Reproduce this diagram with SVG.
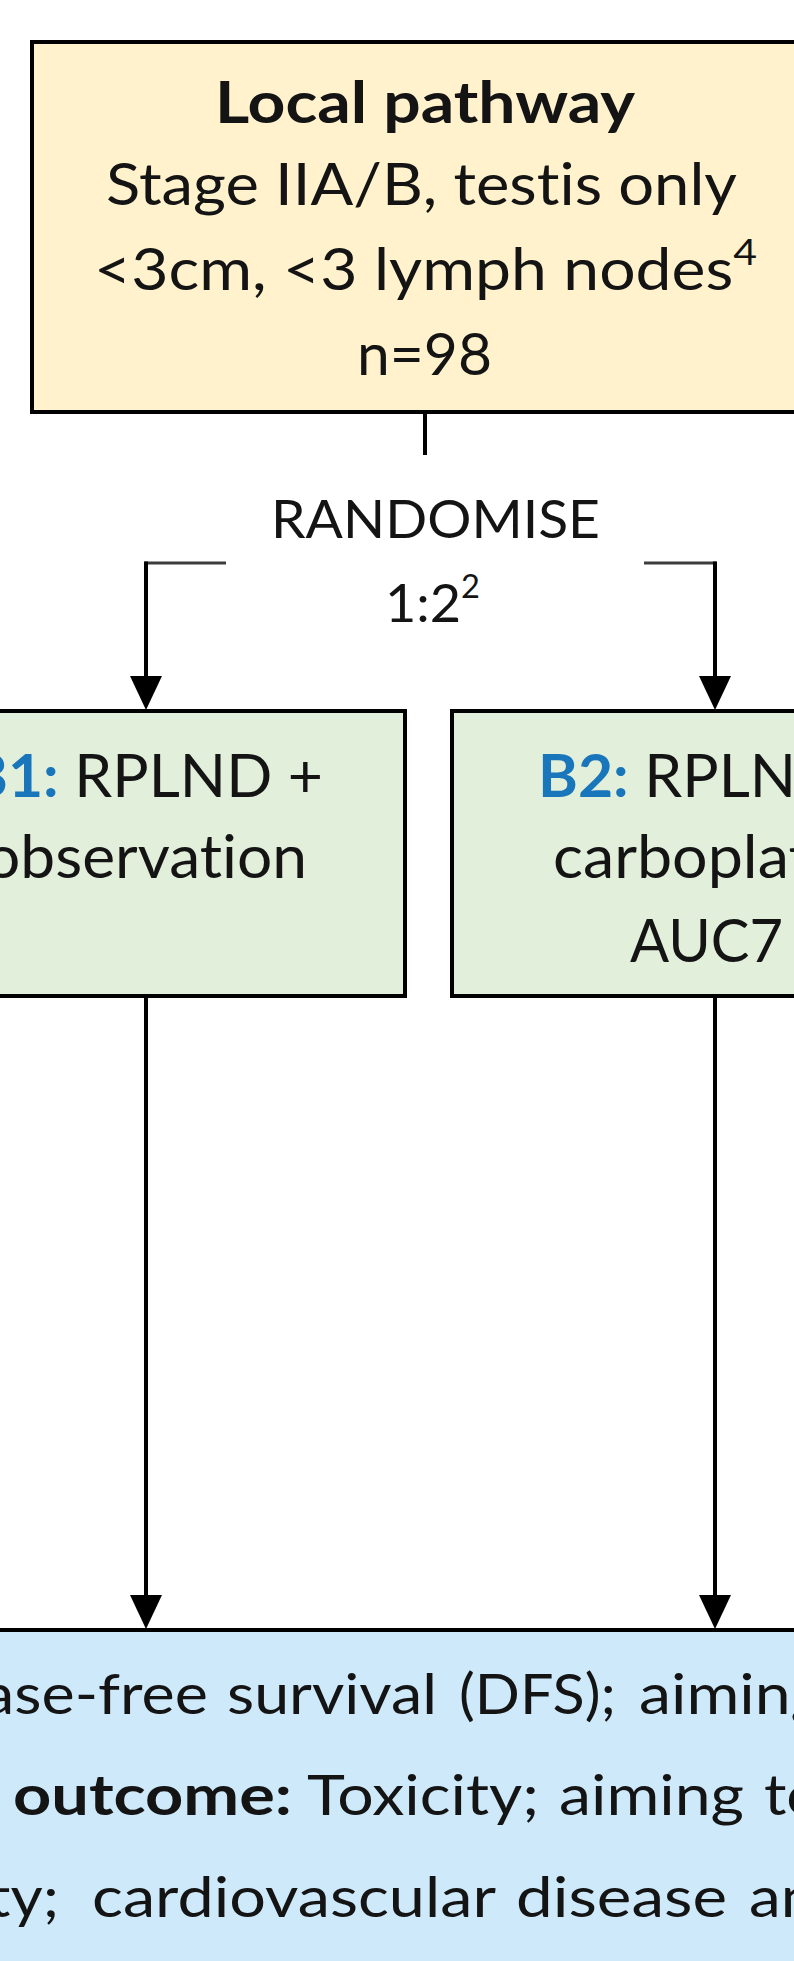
<svg xmlns="http://www.w3.org/2000/svg" width="794" height="1961" viewBox="0 0 794 1961">
  <style>
    .box { stroke: #000; stroke-width: 4; }
    .local { fill: #FFF2CC; }
    .arm { fill: #E2EFDA; }
    .outcome { fill: #CDE9FA; }
    .t { font-family: Lato, "Open Sans", "Liberation Sans", sans-serif; fill: #141414; font-variant-ligatures: none; font-feature-settings: "liga" 0, "clig" 0; }
    .b { font-weight: 700; }
    .arm-id { fill: #1A76BB; font-weight: 700; }
    .wire { fill: none; stroke: #000; stroke-width: 4; }
    .stub { fill: none; stroke: #3c3c3c; stroke-width: 3; }
  </style>
  <defs>
    <marker id="ah" viewBox="0 0 34 32" refX="24" refY="16" markerWidth="34" markerHeight="32" markerUnits="userSpaceOnUse" orient="auto">
      <path d="M0,0 L34,16 L0,32 Z" fill="#000"/>
    </marker>
  </defs>

  <rect width="794" height="1961" fill="#fff"/>

  <!-- Local pathway entry box -->
  <g id="local-pathway">
    <rect class="box local" x="32" y="42" width="800" height="370"/>
    <text class="t b" x="215" y="123" font-size="58" textLength="420" lengthAdjust="spacingAndGlyphs">Local pathway</text>
    <text class="t" x="106" y="205" font-size="58" textLength="631" lengthAdjust="spacingAndGlyphs">Stage IIA/B, testis only</text>
    <text class="t" x="94" y="290" font-size="58" textLength="663" lengthAdjust="spacingAndGlyphs">&lt;3cm, &lt;3 lymph nodes<tspan dy="-25" font-size="37">4</tspan></text>
    <text class="t" x="357" y="375" font-size="58" textLength="135" lengthAdjust="spacingAndGlyphs">n=98</text>
  </g>

  <!-- Randomisation label -->
  <g id="randomise">
    <text class="t" x="271" y="538" font-size="53" fill="#262626" textLength="329" lengthAdjust="spacingAndGlyphs">RANDOMISE</text>
    <text class="t" x="385" y="622" font-size="53" fill="#262626" textLength="95" lengthAdjust="spacingAndGlyphs">1:2<tspan dy="-24" font-size="32">2</tspan></text>
  </g>

  <!-- Arm B1 -->
  <g id="arm-b1">
    <rect class="box arm" x="-113" y="711" width="518" height="285"/>
    <text class="t" x="-32" y="797" font-size="60" textLength="355" lengthAdjust="spacingAndGlyphs"><tspan class="arm-id">B1:</tspan> RPLND +</text>
    <text class="t" x="-15" y="878" font-size="60" textLength="322" lengthAdjust="spacingAndGlyphs">observation</text>
  </g>

  <!-- Arm B2 -->
  <g id="arm-b2">
    <rect class="box arm" x="452" y="711" width="600" height="285"/>
    <text class="t" x="538" y="797" font-size="60" textLength="355" lengthAdjust="spacingAndGlyphs"><tspan class="arm-id">B2:</tspan> RPLND +</text>
    <text class="t" x="553" y="878" font-size="60" textLength="308" lengthAdjust="spacingAndGlyphs">carboplatin</text>
    <text class="t" x="630" y="962" font-size="60" textLength="153" lengthAdjust="spacingAndGlyphs">AUC7</text>
  </g>

  <!-- Outcomes box -->
  <g id="outcomes">
    <rect class="box outcome" x="-20" y="1630" width="840" height="400"/>
    <text class="t" y="1714" font-size="56" fill="#0f1a22"><tspan x="-17" textLength="225" lengthAdjust="spacingAndGlyphs">ase-free</tspan><tspan x="227" textLength="210" lengthAdjust="spacingAndGlyphs">survival</tspan><tspan x="459" textLength="157" lengthAdjust="spacingAndGlyphs">(DFS);</tspan><tspan x="639" textLength="185" lengthAdjust="spacingAndGlyphs">aiming</tspan></text>
    <text class="t" y="1815" font-size="56" fill="#0f1a22"><tspan class="b" x="13" textLength="279" lengthAdjust="spacingAndGlyphs">outcome:</tspan><tspan x="307" textLength="232" lengthAdjust="spacingAndGlyphs">Toxicity;</tspan><tspan x="559" textLength="185" lengthAdjust="spacingAndGlyphs">aiming</tspan><tspan x="764" textLength="58" lengthAdjust="spacingAndGlyphs">to</tspan></text>
    <text class="t" y="1917" font-size="56" fill="#0f1a22"><tspan x="-12" textLength="71" lengthAdjust="spacingAndGlyphs">ty;</tspan><tspan x="92" textLength="404" lengthAdjust="spacingAndGlyphs">cardiovascular</tspan><tspan x="516" textLength="211" lengthAdjust="spacingAndGlyphs">disease</tspan><tspan x="749" textLength="103" lengthAdjust="spacingAndGlyphs">and</tspan></text>
  </g>

  <!-- Connectors -->
  <g id="connectors">
    <line class="wire" x1="425" y1="412" x2="425" y2="455"/>
    <line class="stub" x1="226" y1="563" x2="144.5" y2="563"/>
    <line class="stub" x1="644" y1="563" x2="716.5" y2="563"/>
    <path class="wire" d="M146,561.5 V700" marker-end="url(#ah)"/>
    <path class="wire" d="M715,561.5 V700" marker-end="url(#ah)"/>
    <path class="wire" d="M146,998 V1619" marker-end="url(#ah)"/>
    <path class="wire" d="M715,998 V1619" marker-end="url(#ah)"/>
  </g>
</svg>
